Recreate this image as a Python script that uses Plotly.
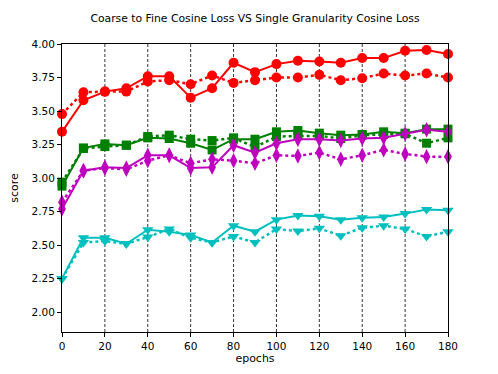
import plotly.graph_objects as go

epochs = [0, 10, 20, 30, 40, 50, 60, 70, 80, 90, 100, 110, 120, 130, 140, 150, 160, 170, 180]

red_c2f = [3.345, 3.58, 3.645, 3.67, 3.76, 3.76, 3.60, 3.67, 3.86, 3.79, 3.85, 3.875, 3.87, 3.86, 3.895, 3.895, 3.95, 3.955, 3.925]
red_single = [3.477, 3.64, 3.645, 3.645, 3.72, 3.73, 3.70, 3.765, 3.71, 3.73, 3.75, 3.75, 3.77, 3.73, 3.745, 3.78, 3.765, 3.78, 3.75]

green_c2f = [2.94, 3.225, 3.255, 3.245, 3.30, 3.295, 3.26, 3.21, 3.29, 3.29, 3.345, 3.355, 3.335, 3.32, 3.325, 3.345, 3.335, 3.365, 3.365]
green_single = [2.97, 3.22, 3.235, 3.245, 3.31, 3.32, 3.29, 3.28, 3.30, 3.23, 3.31, 3.315, 3.315, 3.295, 3.32, 3.325, 3.33, 3.26, 3.30]

magenta_c2f = [2.77, 3.055, 3.08, 3.075, 3.17, 3.17, 3.075, 3.08, 3.245, 3.19, 3.26, 3.29, 3.29, 3.28, 3.295, 3.30, 3.33, 3.36, 3.345]
magenta_single = [2.82, 3.055, 3.075, 3.065, 3.13, 3.17, 3.11, 3.14, 3.13, 3.11, 3.17, 3.165, 3.19, 3.14, 3.17, 3.21, 3.18, 3.16, 3.16]

cyan_c2f = [2.25, 2.555, 2.555, 2.51, 2.615, 2.60, 2.575, 2.52, 2.645, 2.60, 2.69, 2.72, 2.715, 2.69, 2.705, 2.71, 2.735, 2.765, 2.76]
cyan_single = [2.25, 2.52, 2.53, 2.51, 2.56, 2.62, 2.555, 2.52, 2.565, 2.52, 2.62, 2.605, 2.625, 2.57, 2.63, 2.645, 2.62, 2.565, 2.60]

y_ticks = [2.00, 2.25, 2.50, 2.75, 3.00, 3.25, 3.50, 3.75, 4.00]
x_ticks = [0, 20, 40, 60, 80, 100, 120, 140, 160, 180]
grid_x = [20, 40, 60, 80, 100, 120, 140, 160]

series = [
    ("red C2F", red_c2f, "#ff0000", "circle", "solid", 10),
    ("red single", red_single, "#ff0000", "circle", "dot", 10),
    ("green C2F", green_c2f, "#008000", "square", "solid", 9),
    ("green single", green_single, "#008000", "square", "dot", 9),
    ("magenta C2F", magenta_c2f, "#bf00bf", "diamond-tall", "solid", 11),
    ("magenta single", magenta_single, "#bf00bf", "diamond-tall", "dot", 11),
    ("cyan C2F", cyan_c2f, "#00bfbf", "triangle-down", "solid", 10),
    ("cyan single", cyan_single, "#00bfbf", "triangle-down", "dot", 10),
]

fig = go.Figure()
for name, ys, col, sym, dash, ms in series:
    fig.add_trace(go.Scatter(
        x=epochs, y=ys, mode="lines+markers", name=name,
        line=dict(color=col, width=2 if dash == "solid" else 2.5, dash=dash),
        marker=dict(color=col, symbol=sym, size=ms, line=dict(width=0)),
        cliponaxis=False,
    ))

for gx in grid_x:
    fig.add_shape(type="line", xref="x", yref="paper", x0=gx, x1=gx, y0=0, y1=1,
                  line=dict(color="black", width=0.8, dash="3px,2px"), layer="below")

W, H = 490, 366
tick_font = dict(family="DejaVu Sans", size=10.5, color="black")
label_font = dict(family="DejaVu Sans", size=11, color="black")
fig.update_layout(
    width=W, height=H,
    margin=dict(l=54, r=50, t=36, b=42),
    paper_bgcolor="white", plot_bgcolor="white",
    showlegend=False,
    title=dict(text="Coarse to Fine Cosine Loss VS Single Granularity Cosine Loss",
               x=247 / W, xanchor="center", y=1 - 10 / H, yanchor="middle",
               font=dict(family="DejaVu Sans", size=10.8, color="black")),
    font=label_font,
)
fig.update_xaxes(range=[0, 180], tickvals=x_ticks, ticktext=[str(v) for v in x_ticks],
                 showgrid=False, zeroline=False, showline=True, linecolor="black", linewidth=1,
                 mirror=True, ticks="outside", ticklen=4, tickcolor="black", automargin=False,
                 title=dict(text="epochs", font=label_font, standoff=1), tickfont=tick_font)
fig.update_yaxes(range=[1.852, 4.0], tickvals=y_ticks, ticktext=[f"{v:.2f}" for v in y_ticks],
                 showgrid=False, zeroline=False, showline=True, linecolor="black", linewidth=1,
                 mirror=True, ticks="outside", ticklen=4, tickcolor="black", automargin=False,
                 title=dict(text="score", font=label_font, standoff=10), tickfont=tick_font)

fig.write_html("out.html")
